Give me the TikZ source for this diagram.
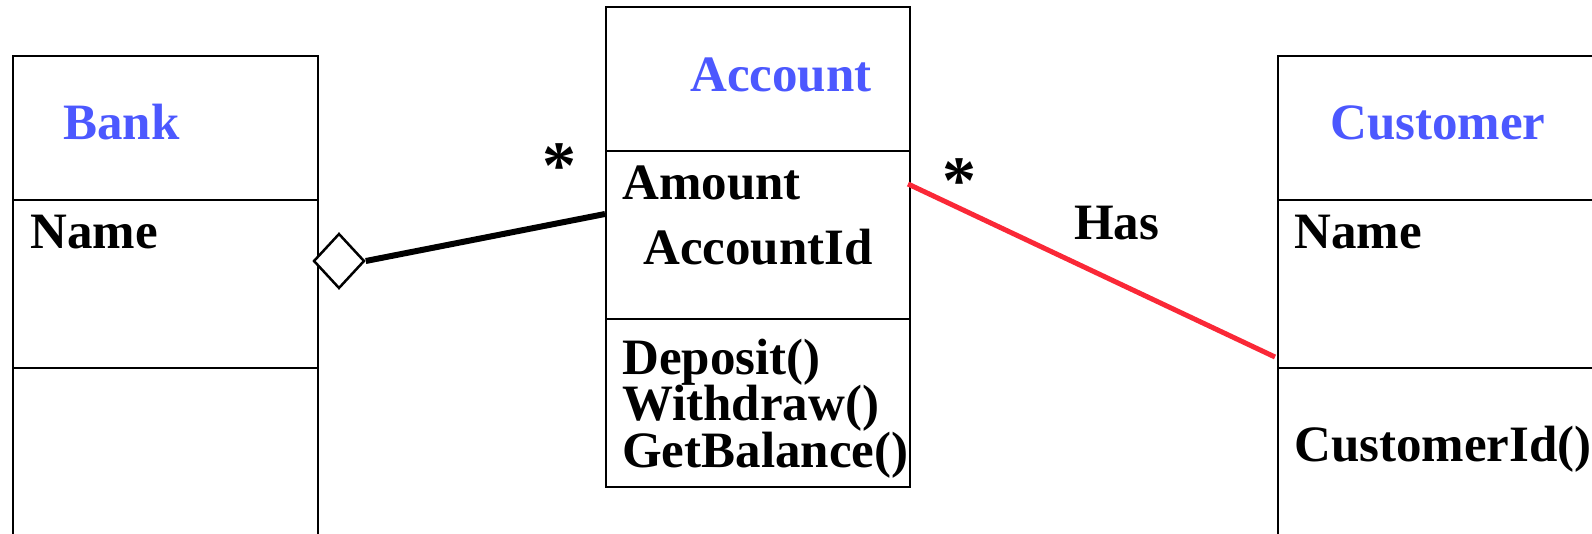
\documentclass[tikz,border=0pt]{standalone}
\usepackage{fontspec}
\setmainfont{Liberation Serif}
\usetikzlibrary{shapes.geometric}
\definecolor{umlblue}{RGB}{76,88,255}
\definecolor{umlred}{RGB}{250,40,55}
\begin{document}
\begin{tikzpicture}[x=1pt,y=-1pt,
  box/.style={draw, line width=2.2pt, inner sep=0pt, anchor=north west},
  lbl/.style={anchor=base west, inner sep=0pt, font=\fontsize{51}{60}\selectfont\bfseries},
  ttl/.style={lbl, text=umlblue},
  mult/.style={anchor=base, inner sep=0pt, font=\fontsize{68}{80}\selectfont\bfseries}]
\useasboundingbox (0,0) rectangle (1592,534);
% Bank
\node[box, minimum width=305pt, minimum height=144pt] (bankHead) at (12,55) {};
\node[box, minimum width=305pt, minimum height=167.5pt] (bankAttr) at (12,199) {};
\node[box, minimum width=305pt, minimum height=180pt] (bankOps) at (12,366.5) {};
\node[ttl] (bankT) at (63,140) {Bank};
\node[lbl] (bankN) at (30,249) {Name};
% Account
\node[box, minimum width=304pt, minimum height=144pt] (accHead) at (605,6) {};
\node[box, minimum width=304pt, minimum height=168pt] (accAttr) at (605,150) {};
\node[box, minimum width=304pt, minimum height=168pt] (accOps) at (605,318) {};
\node[ttl] (accT) at (690,92) {Account};
\node[lbl] (accA1) at (622,200) {Amount};
\node[lbl] (accA2) at (643,265) {AccountId};
\node[lbl] (accO1) at (622,374) {Deposit()};
\node[lbl] (accO2) at (622,420) {Withdraw()};
\node[lbl] (accO3) at (622,467) {GetBalance()};
% Customer
\node[box, minimum width=330pt, minimum height=144pt] (cusHead) at (1277,55) {};
\node[box, minimum width=330pt, minimum height=167.5pt] (cusAttr) at (1277,199) {};
\node[box, minimum width=330pt, minimum height=180pt] (cusOps) at (1277,366.5) {};
\node[ttl] (cusT) at (1330,140) {Customer};
\node[lbl] (cusN) at (1294,249) {Name};
\node[lbl] (cusO) at (1294,461) {CustomerId()};
% aggregation
\node[diamond, draw, line width=2.5pt, fill=white, inner sep=0pt, minimum width=51pt, minimum height=55pt] (dia) at (339,261) {};
\coordinate (accAggEnd) at (605,214);
\draw[line width=6pt] (dia.east) -- (accAggEnd);
\node[mult] (star1) at (559,189) {*};
% association
\coordinate (hasA) at (908,184);
\coordinate (hasC) at (1275,357);
\draw[umlred, line width=5pt] (hasA) -- (hasC);
\node[mult] (star2) at (959.5,204) {*};
\node[lbl] (has) at (1074,240) {Has};
\end{tikzpicture}
\end{document}
